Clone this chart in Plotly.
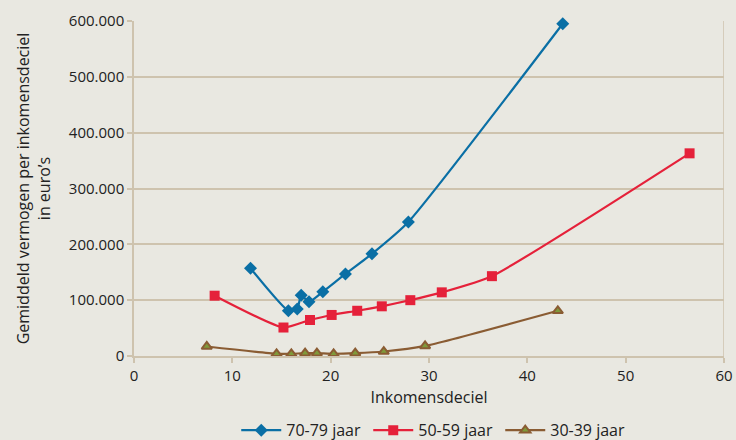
import plotly.graph_objects as go

x_7079 = [11.85, 15.7, 16.6, 17.0, 17.8, 19.2, 21.5, 24.2, 27.9, 43.6]
y_7079 = [157000, 81000, 84000, 109000, 97000, 115000, 147000, 183000, 240000, 595000]

x_5059 = [8.2, 15.2, 17.9, 20.1, 22.7, 25.2, 28.1, 31.3, 36.4, 56.5]
y_5059 = [108000, 51000, 64500, 73500, 81000, 89000, 100000, 114000, 143000, 363000]

x_3039 = [7.4, 14.5, 16.0, 17.4, 18.6, 20.3, 22.5, 25.4, 29.6, 43.1]
y_3039 = [17000, 4000, 4000, 5000, 5000, 4000, 5000, 8000, 18000, 81000]

names = ["70-79 jaar", "50-59 jaar", "30-39 jaar"]

BG = "#E9E8E1"
GRID = "#CEC3AE"
FONT = "Open Sans"

fig = go.Figure()
fig.add_trace(go.Scatter(x=x_7079, y=y_7079, name=names[0], mode="lines+markers",
                         line=dict(color="#0A6FA5", width=2.2, shape="spline", smoothing=0.5),
                         marker=dict(symbol="diamond", size=10, color="#0A6FA5"), cliponaxis=False))
fig.add_trace(go.Scatter(x=x_5059, y=y_5059, name=names[1], mode="lines+markers",
                         line=dict(color="#E5213A", width=2.2, shape="spline", smoothing=0.5),
                         marker=dict(symbol="square", size=10, color="#E5213A"), cliponaxis=False))
fig.add_trace(go.Scatter(x=x_3039, y=y_3039, name=names[2], mode="lines+markers",
                         line=dict(color="#8A5C33", width=2.2, shape="spline", smoothing=0.5),
                         marker=dict(symbol="triangle-up", size=9, color="#7F9A3A",
                                     line=dict(color="#8A5C33", width=2)), cliponaxis=False))

fig.add_shape(type="line", xref="x", yref="paper", x0=60, x1=60, y0=0, y1=1,
              line=dict(color=GRID, width=1.5), layer="below")

fig.update_layout(
    width=736, height=440,
    margin=dict(l=134, r=12, t=21, b=84, autoexpand=False),
    paper_bgcolor=BG, plot_bgcolor=BG,
    font=dict(family=FONT, size=15, color="#222222"),
    separators=",.",
    showlegend=True,
    legend=dict(orientation="h", x=0.59, xanchor="center", xref="container",
                y=0.022, yanchor="middle", yref="container",
                font=dict(size=16), bgcolor="rgba(0,0,0,0)", itemwidth=40, tracegroupgap=0,
                entrywidth=77, entrywidthmode="pixels"),
    xaxis=dict(range=[0, 60], dtick=10, showgrid=False, zeroline=False, automargin=False,
               showline=True, linecolor=GRID, linewidth=1.5,
               ticks="outside", tickcolor=GRID, ticklen=5, tickwidth=1.5,
               title=dict(text="Inkomensdeciel", font=dict(size=16), standoff=8)),
    yaxis=dict(range=[0, 600000], dtick=100000, tickformat=",d", showgrid=True, automargin=False,
               gridcolor=GRID, gridwidth=1.5, zeroline=False,
               showline=True, linecolor=GRID, linewidth=1.5,
               ticks="outside", tickcolor=GRID, ticklen=5, tickwidth=1.5,
               title=dict(text="Gemiddeld vermogen per inkomensdeciel<br>in euro’s",
                          font=dict(size=16), standoff=14)),
)

fig.write_html("out.html", config={"displayModeBar": False},
               post_script="document.body.style.margin='0';document.body.style.overflow='hidden';")
